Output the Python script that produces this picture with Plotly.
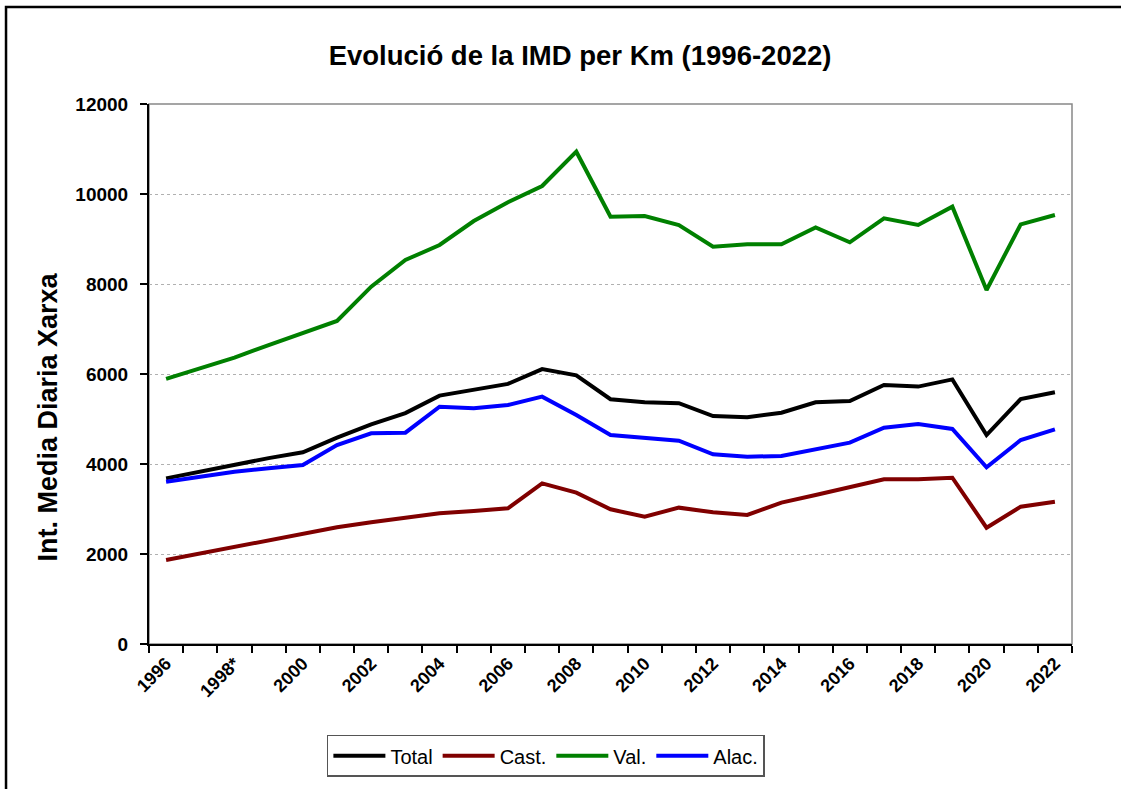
import plotly.graph_objects as go

years = ["1996", "1997", "1998", "1999", "2000", "2001", "2002", "2003", "2004",
         "2005", "2006", "2007", "2008", "2009", "2010", "2011", "2012", "2013",
         "2014", "2015", "2016", "2017", "2018", "2019", "2020", "2021", "2022"]
tick_labels = ["1996", "", "1998*", "", "2000", "", "2002", "", "2004", "", "2006", "",
               "2008", "", "2010", "", "2012", "", "2014", "", "2016", "", "2018", "",
               "2020", "", "2022"]

total = [3680, 3830, 3990, 4130, 4260, 4585, 4880, 5130, 5520, 5660, 5780, 6110, 5970,
         5440, 5370, 5350, 5065, 5040, 5140, 5370, 5400, 5756, 5720, 5880, 4644, 5444, 5593]
cast = [1867, 2015, 2163, 2311, 2459, 2593, 2704, 2815, 2904, 2956, 3015, 3570, 3363,
        2993, 2830, 3030, 2926, 2867, 3141, 3311, 3496, 3659, 3659, 3696, 2585, 3052, 3163]
val = [5890, 6130, 6362, 6644, 6918, 7178, 7941, 8533, 8867, 9400, 9815, 10178, 10940,
       9496, 9511, 9311, 8830, 8881, 8881, 9259, 8926, 9459, 9311, 9719, 7867, 9326, 9533]
alac = [3607, 3719, 3830, 3904, 3978, 4422, 4681, 4696, 5274, 5237, 5311, 5496, 5089,
        4644, 4585, 4519, 4215, 4163, 4178, 4326, 4474, 4807, 4889, 4778, 3926, 4533, 4770]

series = [("Total", total, "#000000"), ("Cast.", cast, "#800000"),
          ("Val.", val, "#008000"), ("Alac.", alac, "#0000FF")]

fig = go.Figure()
for name, vals, color in series:
    fig.add_trace(go.Scatter(x=years, y=vals, name=name, mode="lines",
                             line=dict(color=color, width=4)))

font_family = "Liberation Sans, Arial, sans-serif"

fig.update_layout(
    width=1121, height=789,
    margin=dict(l=149, r=49, t=104, b=145),
    paper_bgcolor="white", plot_bgcolor="white",
    font=dict(family=font_family, color="black"),
    title=dict(text="<b>Evolució de la IMD per Km (1996-2022)</b>",
               font=dict(size=27.5, family=font_family, color="black"),
               x=0.467, xanchor="center", xref="paper", y=0.93, yanchor="middle"),
    showlegend=True,
    legend=dict(orientation="h", x=0.43, xanchor="center", y=-0.168, yanchor="top",
                bordercolor="#555555", borderwidth=1.5,
                font=dict(size=20, family=font_family, color="black"),
                itemwidth=52, tracegroupgap=0),
    xaxis=dict(type="category", tickmode="array", tickvals=years, ticktext=tick_labels,
               tickson="boundaries", ticks="outside", ticklen=7, tickcolor="black",
               tickwidth=1.5, tickangle=-45, automargin=False,
               tickfont=dict(size=18, family=font_family, color="black", weight="bold"),
               showline=True, linecolor="black", linewidth=2, showgrid=False,
               range=[-0.5, len(years) - 0.5]),
    yaxis=dict(range=[0, 12000], dtick=2000, tick0=0, ticks="outside", ticklen=7,
               tickformat="d", automargin=False, ticklabelstandoff=8,
               tickcolor="black", tickwidth=1.5,
               tickfont=dict(size=19, family=font_family, color="black", weight="bold"),
               showline=True, linecolor="black", linewidth=2,
               showgrid=True, gridcolor="#b0b0b0", gridwidth=1, griddash="dot",
               zeroline=False),
    shapes=[
        dict(type="rect", xref="paper", yref="paper", x0=0, x1=1, y0=0, y1=1,
             line=dict(color="#888888", width=1.5), layer="below"),
        dict(type="rect", xref="paper", yref="paper", x0=-0.1549, x1=1.2, y0=-0.4, y1=1.1796,
             line=dict(color="black", width=2.5), layer="below"),
    ],
    annotations=[
        dict(text="<b>Int. Media Diaria Xarxa</b>", xref="paper", yref="paper",
             x=-0.109, y=0.42, xanchor="center", yanchor="middle", textangle=-90,
             showarrow=False, font=dict(size=27, family=font_family, color="black")),
    ],
)

fig.write_html("out.html", config={"displayModeBar": False},
               post_script="document.body.style.margin='0px';")
